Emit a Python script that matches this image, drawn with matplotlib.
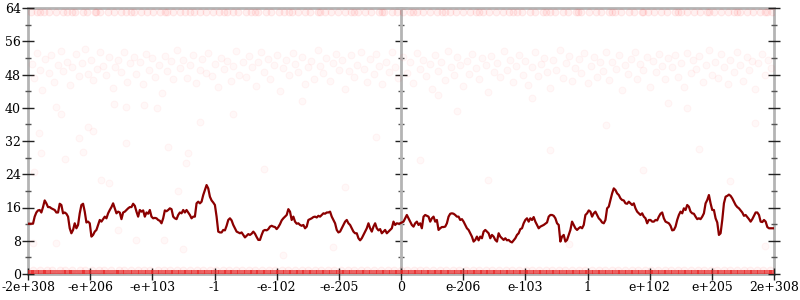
import numpy as np
import matplotlib
matplotlib.use("Agg")
import matplotlib.pyplot as plt
from matplotlib.ticker import MultipleLocator, NullFormatter

# ---------------- data ----------------
tick_labels = ["-2e+308", "-e+206", "-e+103", "-1", "-e-102", "-e-205", "0",
               "e-206", "e-103", "1", "e+102", "e+205", "2e+308"]
tick_pos = [-6, -5, -4, -3, -2, -1, 0, 1, 2, 3, 4, 5, 6]

# smoothed line (evenly spaced across the full x range)
line_y = [
    12.1, 12.1, 12.1, 12.1, 13.8, 14.8, 15.3, 15.4, 14.8, 16.1, 17.7, 17.0, 16.1, 16.1, 15.8, 15.6,
    15.4, 14.8, 14.8, 16.9, 16.6, 14.6, 14.8, 14.5, 13.8, 11.0, 9.8, 10.6, 12.2, 11.0, 11.8, 14.6,
    16.6, 16.9, 15.0, 12.4, 12.6, 12.2, 9.0, 9.4, 10.2, 10.6, 11.8, 13.0, 12.6, 13.2, 13.8, 13.4,
    14.6, 15.4, 16.1, 17.0, 15.8, 14.6, 15.0, 14.8, 13.2, 14.8, 15.0, 15.4, 15.8, 16.1, 16.1, 16.9,
    16.4, 15.0, 13.8, 15.4, 15.0, 15.3, 13.8, 14.8, 14.5,
    15.4, 13.8, 13.4, 13.5, 13.4, 13.0, 12.8, 12.2, 13.4, 15.3, 15.1, 15.4, 15.8, 15.6, 13.8, 13.4,
    13.2, 14.2, 14.8, 14.6, 15.4, 14.8, 15.4, 14.8, 14.2, 13.4, 13.8, 13.8, 17.0, 17.4, 17.0, 17.4,
    19.0, 20.2, 21.4, 20.6, 18.6, 17.7, 17.2, 16.6, 13.8, 10.2, 10.0, 10.0, 10.6, 10.5, 11.6, 13.0,
    13.4, 12.9, 11.8, 11.0, 10.2, 10.0, 9.8, 10.0, 9.4, 8.8, 9.2, 9.6, 9.4, 9.7, 10.2, 9.7,
    8.9, 8.2, 8.2, 9.4, 10.4, 10.6, 10.5, 10.8, 11.4, 11.6, 11.4,
    11.3, 10.8, 11.3, 12.0, 12.9, 13.4, 13.8, 14.2, 15.6, 15.0, 13.0, 13.8, 12.6, 12.1, 12.2, 11.8,
    11.6, 11.8, 11.0, 11.4, 13.0, 13.2, 13.4, 13.7, 13.8, 13.6, 14.0, 13.8, 14.2, 14.6, 14.5, 14.8,
    14.8, 15.0, 13.8, 13.0, 12.2, 10.6, 10.0, 10.2, 11.0, 11.8, 12.6, 13.0, 12.2, 11.8, 11.0, 10.2,
    9.8, 9.8, 8.6, 8.1, 8.6, 9.4, 10.2, 11.0, 12.2, 11.0, 10.2, 11.4, 12.2, 11.0, 10.5, 10.8,
    9.8, 10.2, 10.6, 9.8, 10.2, 10.6, 11.0, 12.6, 11.8, 12.2, 12.1,
    12.2, 12.4, 12.6, 13.4, 14.2, 13.4, 12.6, 11.8, 11.4, 12.2, 12.6, 11.8, 12.2, 11.0, 13.8, 14.2,
    14.0, 13.8, 12.6, 13.4, 13.8, 12.6, 13.0, 10.6, 11.0, 11.3, 11.3, 11.4, 12.2, 13.8, 14.5, 14.6,
    14.5, 14.2, 13.8, 13.8, 13.0, 13.2, 12.6, 11.8, 11.0, 10.6, 9.8, 9.0, 7.8, 8.2, 9.0, 8.1,
    9.0, 8.6, 10.2, 10.6, 10.2, 9.8, 8.6, 9.4, 9.0, 8.2, 7.8, 9.8, 9.0, 8.6, 8.2, 8.6,
    8.1, 8.2, 7.8, 7.6, 8.1, 8.6, 9.4, 9.8, 10.8, 11.0, 12.2,
    13.0, 13.4, 12.6, 13.4, 13.0, 13.7, 12.6, 11.8, 11.0, 11.4, 11.6, 11.8, 12.1, 12.4, 13.8, 14.2,
    14.2, 14.0, 13.4, 12.2, 11.8, 7.8, 9.0, 9.4, 7.8, 8.2, 9.4, 10.6, 12.6, 11.8, 11.0, 10.6,
    11.0, 11.3, 11.0, 11.8, 14.2, 14.6, 15.3, 15.0, 13.8, 14.6, 15.0, 14.2, 13.4, 13.0, 12.4, 12.2,
    13.0, 15.8, 16.2, 17.8, 19.4, 20.6, 20.2, 19.4, 19.0, 18.2, 17.8, 17.7, 17.0, 16.9, 17.4, 17.0,
    16.6, 17.0, 15.8, 15.0, 14.6, 14.2, 14.6, 13.8, 13.4, 12.2, 13.0,
    13.0, 12.6, 12.6, 13.0, 12.9, 13.8, 14.5, 14.8, 13.4, 12.6, 12.4, 12.2, 11.6, 10.5, 10.6, 11.4,
    13.0, 14.2, 15.0, 14.6, 15.8, 15.4, 16.6, 16.2, 15.0, 14.6, 14.5, 13.8, 13.2, 13.4, 13.2, 13.8,
    14.6, 17.0, 17.8, 19.0, 17.0, 15.4, 15.4, 13.4, 12.4, 9.4, 9.8, 13.0, 17.0, 18.6, 18.8, 19.1,
    18.8, 18.2, 17.4, 16.6, 16.1, 15.8, 15.3, 14.8, 14.0, 14.2, 13.7, 13.2, 12.6, 13.2, 14.0, 14.8,
    14.8, 14.2, 12.6, 12.5, 13.0, 12.6, 11.3, 11.0, 11.0, 11.0, 11.0,
]

# faint scatter: cluster around 44-55
cluster_x = [
    -5.94, -5.9, -5.86, -5.8, -5.77, -5.72, -5.66, -5.63, -5.58, -5.52, -5.47, -5.44, -5.38, -5.33, -5.29,
    -5.22, -5.18, -5.13, -5.08, -5.03, -4.98, -4.95, -4.89, -4.84, -4.8, -4.74, -4.7, -4.64, -4.6, -4.55,
    -4.5, -4.45, -4.4, -4.36, -4.3, -4.26, -4.2, -4.15, -4.1, -4.05, -4.0, -3.96, -3.9, -3.85, -3.8,
    -3.76, -3.7, -3.66, -3.6, -3.55, -3.5, -3.44, -3.4, -3.35, -3.29, -3.24, -3.2, -3.14, -3.1, -3.04,
    -3.0, -2.95, -2.9, -2.85, -2.8, -2.74, -2.7, -2.65, -2.6, -2.54, -2.5, -2.45, -2.4, -2.34, -2.3,
    -2.25, -2.2, -2.14, -2.1, -2.05, -2.0, -1.94, -1.9, -1.85, -1.8, -1.74, -1.7, -1.65, -1.6, -1.54,
    -1.5, -1.44, -1.4, -1.34, -1.3, -1.25, -1.2, -1.14, -1.1, -1.05, -1.0, -0.95, -0.9, -0.84, -0.8,
    -0.75, -0.7, -0.64, -0.6, -0.55, -0.5, -0.44, -0.4, -0.35, -0.3, -0.24, -0.2, -0.15, -0.1, -0.05,
    0.04, 0.09, 0.14, 0.2, 0.25, 0.3, 0.35, 0.4, 0.46, 0.5, 0.55, 0.6, 0.65, 0.7, 0.76,
    0.8, 0.85, 0.9, 0.95, 1.0, 1.06, 1.1, 1.15, 1.2, 1.25, 1.3, 1.36, 1.4, 1.45, 1.5,
    1.55, 1.6, 1.66, 1.7, 1.75, 1.8, 1.85, 1.9, 1.96, 2.0, 2.05, 2.1, 2.15, 2.2, 2.26,
    2.3, 2.35, 2.4, 2.45, 2.5, 2.56, 2.6, 2.65, 2.7, 2.75, 2.8, 2.86, 2.9, 2.95, 3.0,
    3.05, 3.1, 3.16, 3.2, 3.25, 3.3, 3.35, 3.4, 3.46, 3.5, 3.55, 3.6, 3.65, 3.7, 3.76,
    3.8, 3.85, 3.9, 3.95, 4.0, 4.06, 4.1, 4.15, 4.2, 4.25, 4.3, 4.36, 4.4, 4.45, 4.5,
    4.55, 4.6, 4.66, 4.7, 4.75, 4.8, 4.85, 4.9, 4.96, 5.0, 5.05, 5.1, 5.15, 5.2, 5.26,
    5.3, 5.35, 5.4, 5.45, 5.5, 5.56, 5.6, 5.65, 5.7, 5.75, 5.8, 5.86, 5.9, 5.95,
]
cluster_y = [
    50.5, 47.2, 53.1, 49.0, 44.3, 51.8, 48.3, 52.6, 46.1, 50.2, 53.7, 48.9, 51.1, 45.4, 49.7,
    52.9, 47.6, 50.8, 54.2, 48.1, 51.6, 46.7, 49.4, 53.3, 50.1, 47.9, 52.2, 44.8, 49.9, 51.4,
    48.6, 53.5, 46.3, 50.7, 52.1, 48.2, 50.9, 45.7, 53.0, 49.2, 51.9, 47.4, 50.3, 43.6, 52.4,
    48.8, 51.2, 46.9, 53.8, 49.6, 51.5, 47.1, 50.4, 52.7, 45.9, 49.1, 51.7, 48.4, 53.2, 47.7,
    50.6, 44.9, 52.0, 49.3, 51.3, 46.5, 50.0, 53.6, 48.0, 51.0, 47.3, 52.5, 49.8, 45.2, 50.9,
    53.4, 48.5, 51.8, 46.8, 50.2, 52.8, 44.1, 49.5, 51.6, 47.8, 53.1, 50.5, 48.7, 52.3, 45.6,
    49.9, 51.2, 47.0, 53.9, 50.1, 48.3, 52.0, 46.4, 50.8, 53.0, 49.0, 51.4, 44.6, 48.9, 52.6,
    47.5, 50.3, 53.3, 49.4, 46.2, 51.7, 48.1, 52.9, 50.0, 45.8, 51.1, 48.6, 53.5, 49.7, 47.2,
    52.1, 48.4, 50.9, 46.0, 53.2, 49.3, 51.5, 47.6, 50.6, 44.4, 52.7, 48.8, 51.0, 46.6, 53.7,
    49.9, 47.9, 52.2, 50.4, 45.3, 51.3, 48.2, 53.0, 49.6, 46.9, 51.9, 50.2, 43.9, 52.4, 48.7,
    50.8, 47.3, 53.6, 49.1, 51.6, 46.3, 50.0, 52.8, 48.0, 51.2, 45.5, 49.8, 53.3, 47.7, 50.5,
    52.0, 48.5, 44.7, 51.4, 49.2, 53.9, 47.1, 50.7, 52.5, 46.4, 49.5, 51.8, 48.3, 53.1, 45.9,
    50.1, 52.3, 47.5, 50.9, 48.9, 53.5, 46.7, 51.1, 49.4, 52.7, 44.2, 50.3, 48.1, 51.7, 53.4,
    47.0, 50.6, 49.0, 52.2, 45.1, 51.3, 48.6, 53.0, 50.0, 46.8, 51.9, 49.7, 52.6, 47.4, 50.8,
    44.9, 53.2, 48.4, 51.5, 49.3, 52.4, 46.1, 50.4, 53.8, 48.0, 51.0, 47.2, 52.9, 49.8, 45.6,
    51.6, 48.7, 53.3, 50.2, 46.5, 52.1, 49.0, 51.2, 44.5, 50.7, 53.0, 47.8, 51.4, 49.5,
]

# sparse points between the bands
sparse_x = [-5.55, -5.47, -5.82, -5.18, -5.04, -4.96, -4.61, -4.42, -4.42, -4.13, -3.92, -3.75, -3.24,
            -5.79, -5.12, -5.4, -5.9, -4.83, -4.69, -4.56, -5.92, -5.55, -4.26, -3.81, -3.51, -3.43,
            -3.46, -3.59, -2.7, -2.2, -1.6, -1.1, -0.4, 0.3, 0.9, 1.4, 2.1, 2.7, 3.3, 3.9,
            4.3, 4.8, 5.3, 5.7, 5.85, -1.9, 0.6, 2.4, 4.6, -0.9]
sparse_y = [40.3, 38.4, 33.9, 32.7, 35.3, 34.5, 41.0, 40.3, 31.4, 40.7, 39.9, 30.6, 36.6,
            29.1, 29.3, 27.7, 24.5, 22.7, 21.9, 10.7, 7.5, 7.5, 8.3, 8.3, 5.9, 29.0,
            26.7, 20.0, 38.5, 25.2, 41.6, 6.4, 33.0, 27.4, 39.1, 22.6, 42.3, 7.1, 35.8, 25.0,
            41.2, 30.1, 22.3, 36.4, 6.8, 4.5, 43.0, 29.8, 40.0, 21.0]

# dense rows
row_top_x = [
    -5.95, -5.86, -5.74, -5.66, -5.55, -5.43, -5.37, -5.25, -5.12, -5.05, -4.93, -4.84, -4.71, -4.62,
    -4.5, -4.43, -4.3, -4.19, -4.08, -3.99, -3.87, -3.76, -3.66, -3.55, -3.47, -3.33, -3.24, -3.13,
    -3.02, -2.93, -2.8, -2.71, -2.62, -2.49, -2.41, -2.3, -2.17, -2.09, -1.97, -1.88, -1.75, -1.66,
    -1.54, -1.46, -1.33, -1.22, -1.13, -1.01, -0.9, -0.81, -0.69, -0.58, -0.49, -0.36, -0.27, -0.15,
    -0.06, 0.04, 0.15, 0.26, 0.35, 0.47, 0.58, 0.66, 0.79, 0.88, 0.99, 1.11, 1.2, 1.32, 1.41, 1.53,
    1.64, 1.73, 1.86, 1.95, 2.07, 2.16, 2.28, 2.39, 2.47, 2.6, 2.69, 2.81, 2.9, 3.02, 3.13, 3.22,
    3.34, 3.45, 3.54, 3.66, 3.75, 3.87, 3.98, 4.07, 4.19, 4.28, 4.4, 4.51, 4.6, 4.72, 4.81, 4.93,
    5.03, 5.14, 5.26, 5.35, 5.46, 5.57, 5.67, 5.78, 5.88, 5.96,
    -5.8, -5.3, -4.9, -4.35, -3.8, -3.4, -2.85, -2.35, -1.8, -1.3, -0.75, -0.3, 0.2, 0.7, 1.25,
    1.8, 2.33, 2.85, 3.4, 3.9, 4.45, 4.95, 5.4, 5.85,
]
row_top_y = 63
row_one_x = [
    -5.92, -5.81, -5.7, -5.61, -5.48, -5.4, -5.29, -5.17, -5.08, -4.97, -4.86, -4.77, -4.66, -4.54,
    -4.46, -4.35, -4.23, -4.13, -4.03, -3.91, -3.82, -3.71, -3.6, -3.5, -3.39, -3.28, -3.18, -3.07,
    -2.97, -2.86, -2.76, -2.66, -2.55, -2.44, -2.35, -2.23, -2.13, -2.03, -1.92, -1.81, -1.71, -1.6,
    -1.5, -1.39, -1.28, -1.18, -1.07, -0.96, -0.86, -0.75, -0.64, -0.54, -0.43, -0.32, -0.21, -0.11,
    0.0, 0.1, 0.21, 0.31, 0.41, 0.52, 0.62, 0.73, 0.84, 0.94, 1.05, 1.16, 1.26, 1.37, 1.47, 1.58,
    1.69, 1.79, 1.9, 2.01, 2.11, 2.22, 2.33, 2.43, 2.54, 2.64, 2.75, 2.86, 2.96, 3.07, 3.18, 3.28,
    3.39, 3.49, 3.6, 3.71, 3.81, 3.92, 4.02, 4.13, 4.24, 4.34, 4.45, 4.55, 4.66, 4.77, 4.87, 4.98,
    5.09, 5.19, 5.3, 5.41, 5.51, 5.62, 5.72, 5.83, 5.94,
]
row_one_y = 1
row_zero_x = [
    -5.97, -5.89, -5.78, -5.69, -5.58, -5.46, -5.35, -5.27, -5.15, -5.06, -4.95, -4.82, -4.73, -4.6,
    -4.52, -4.4, -4.28, -4.17, -4.06, -3.96, -3.85, -3.73, -3.63, -3.52, -3.42, -3.31, -3.21, -3.1,
    -2.99, -2.88, -2.78, -2.68, -2.57, -2.46, -2.37, -2.26, -2.15, -2.05, -1.94, -1.84, -1.73, -1.62,
    -1.52, -1.41, -1.3, -1.2, -1.09, -0.98, -0.88, -0.77, -0.66, -0.56, -0.45, -0.34, -0.24, -0.13,
    -0.03, 0.07, 0.18, 0.28, 0.39, 0.49, 0.6, 0.7, 0.81, 0.92, 1.02, 1.13, 1.23, 1.34, 1.44, 1.55,
    1.66, 1.76, 1.87, 1.97, 2.08, 2.19, 2.29, 2.4, 2.5, 2.61, 2.72, 2.82, 2.93, 3.03, 3.14, 3.24,
    3.35, 3.46, 3.56, 3.67, 3.77, 3.88, 3.99, 4.09, 4.2, 4.3, 4.41, 4.52, 4.62, 4.73, 4.83, 4.94,
    5.05, 5.15, 5.26, 5.36, 5.47, 5.58, 5.68, 5.79, 5.9, 5.98,
]
row_zero_y = 0

# ---------------- figure ----------------
plt.rcParams['font.family'] = ['DejaVu Serif']
fig = plt.figure(figsize=(8, 3), dpi=100)
ax = fig.add_axes([28 / 800, 26 / 300, 746 / 800, 266 / 300])

red = (1.0, 0.2, 0.2)
kw = dict(s=24, facecolors=red + (0.03,), edgecolors=red + (0.04,), linewidths=0.8, zorder=2)

ax.scatter(cluster_x, cluster_y, **kw)
ax.scatter(sparse_x, sparse_y, **kw)
ax.scatter(row_top_x, [row_top_y] * len(row_top_x), s=24, facecolors=red + (0.07,),
           edgecolors=red + (0.08,), linewidths=0.8, zorder=2)
ax.scatter(row_one_x, [row_one_y] * len(row_one_x), s=24, facecolors=red + (0.05,),
           edgecolors=red + (0.06,), linewidths=0.8, zorder=2)
ax.scatter(row_zero_x, [row_zero_y] * len(row_zero_x), s=34, marker='s',
           facecolors=(0.9, 0.15, 0.15, 0.7), edgecolors='none', zorder=2)

line_x = np.linspace(-6, 6, len(line_y))
ax.plot(line_x, line_y, color='#8b0000', lw=1.6, zorder=3)

ax.set_xlim(-6, 6)
ax.set_ylim(0, 64)

spine_col = '#b4b4b4'
for s in ax.spines.values():
    s.set_color(spine_col)
    s.set_linewidth(2)
    s.set_zorder(1)

ax.set_xticks(tick_pos)
ax.set_xticklabels(tick_labels)
ax.yaxis.set_major_locator(MultipleLocator(8))
ax.yaxis.set_minor_locator(MultipleLocator(4))

ax.tick_params(axis='both', which='major', direction='inout', length=8, width=1,
               color='#222222', labelsize=9, pad=1)
ax.tick_params(axis='y', which='minor', direction='inout', length=4.5, width=1,
               color='#555555')
ax.tick_params(axis='y', which='both', right=True)

# middle vertical axis at x = 0
mid = ax.secondary_yaxis(0.5)
mid.yaxis.set_major_locator(MultipleLocator(8))
mid.yaxis.set_minor_locator(MultipleLocator(4))
mid.yaxis.set_major_formatter(NullFormatter())
mid.tick_params(which='major', direction='inout', length=8, width=1, color='#222222')
mid.tick_params(which='minor', direction='inout', length=4.5, width=1, color='#555555')
for s in mid.spines.values():
    s.set_color(spine_col)
    s.set_linewidth(2)

fig.savefig('out.png', dpi=100)
